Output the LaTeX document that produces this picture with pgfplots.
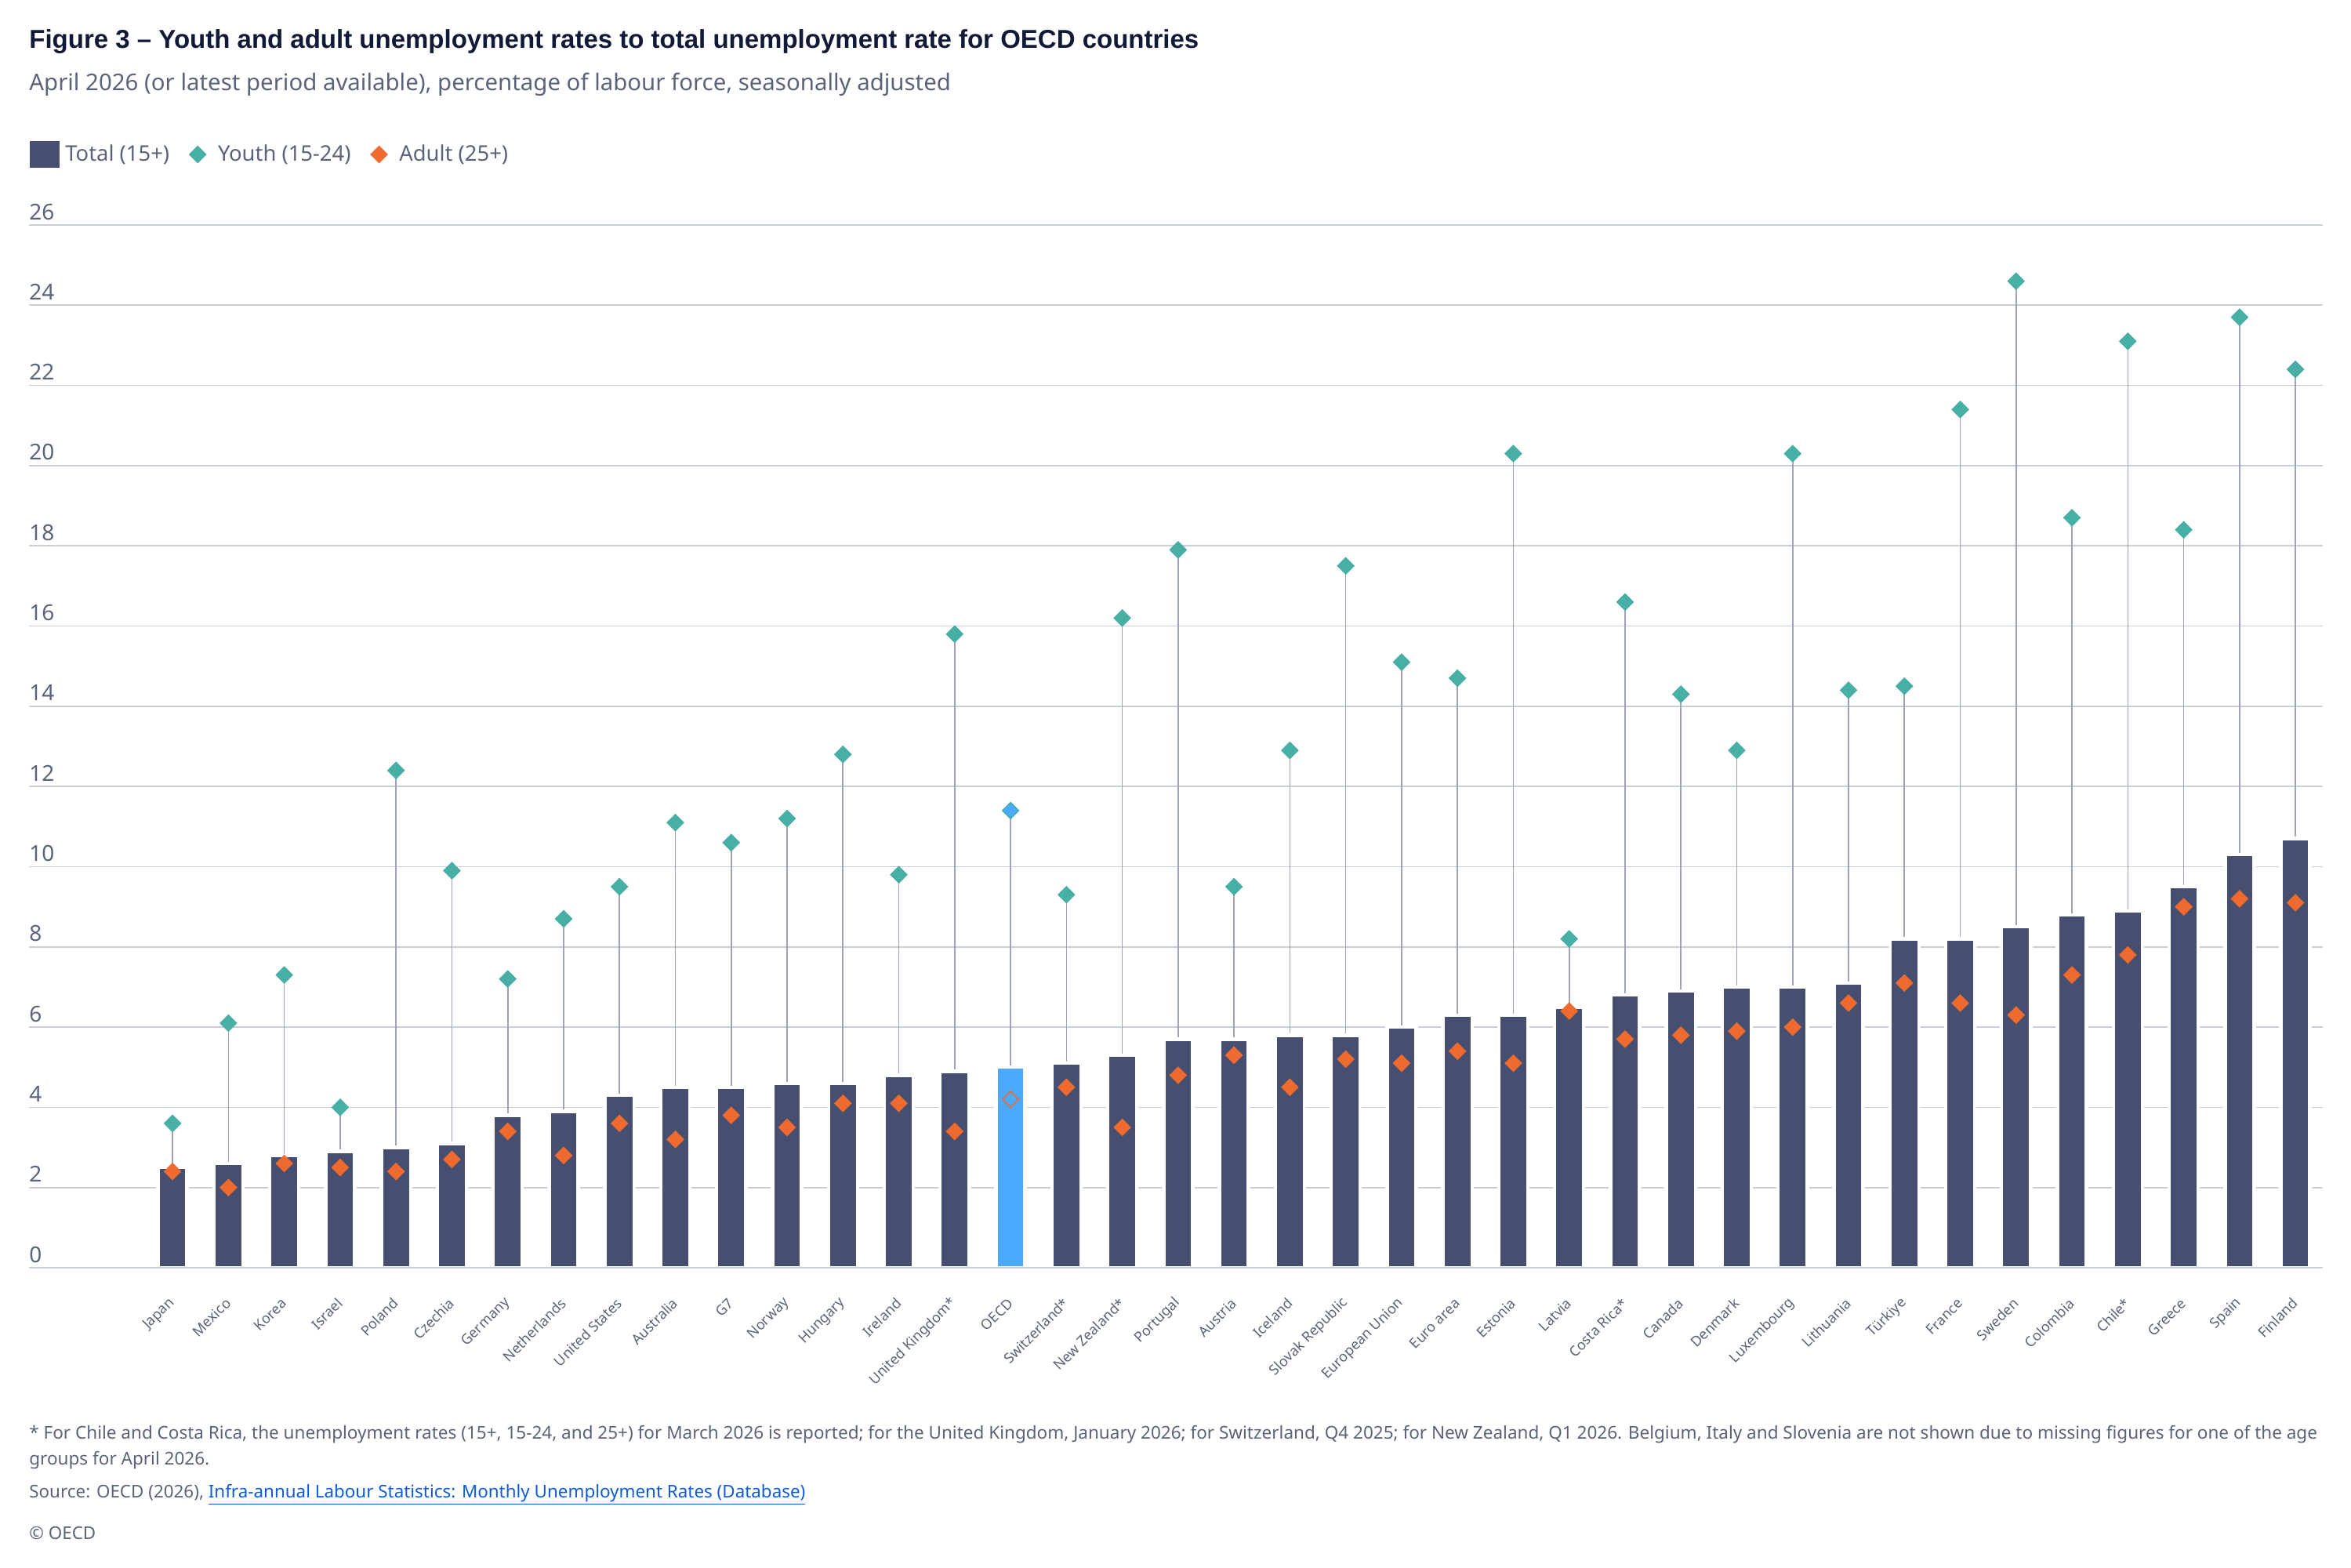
\documentclass[border=0pt]{standalone}
\usepackage{pgfplots}
\pgfplotsset{compat=1.18}
\usepackage{fontspec}
\setmainfont{Noto Sans}
\newfontfamily\titlefont{Liberation Sans}
\definecolor{barcol}{HTML}{464F6F}
\definecolor{teal}{HTML}{47AFA6}
\definecolor{orng}{HTML}{EE6A2E}
\definecolor{oecdblue}{HTML}{4BA9FF}
\definecolor{gridcol}{HTML}{C9CFDA}
\definecolor{conncol}{HTML}{9EA3B9}
\definecolor{ticktext}{HTML}{5B6379}
\definecolor{titlecol}{HTML}{101935}
\definecolor{linkcol}{HTML}{0D5BDD}
\begin{document}
\begin{tikzpicture}
\useasboundingbox (0,0) rectangle (1499.5pt,-1000pt);
\node[anchor=base west, inner sep=0pt, text=titlecol, font=\titlefont\bfseries\fontsize{16.5}{19}\selectfont] at (18.5pt,-30.85pt) {Figure 3 – Youth and adult unemployment rates to total unemployment rate for OECD countries};
\node[anchor=base west, inner sep=0pt, text=ticktext, font=\fontsize{14.7}{18}\selectfont] at (18.5pt,-58pt) {April 2026 (or latest period available), percentage of labour force, seasonally adjusted};
\begin{axis}[
 at={(18.5pt,-808.5pt)}, anchor=south west,
 scale only axis, width=1463pt, height=665pt,
 xmin=-2.57, xmax=38.49, ymin=0, ymax=26,
 ytick={0,2,...,26},
 xtick={0,...,38},
 xticklabels={Japan,Mexico,Korea,Israel,Poland,Czechia,Germany,Netherlands,United States,Australia,G7,Norway,Hungary,Ireland,United Kingdom*,OECD,Switzerland*,New Zealand*,Portugal,Austria,Iceland,Slovak Republic,European Union,Euro area,Estonia,Latvia,Costa Rica*,Canada,Denmark,Luxembourg,Lithuania,Türkiye,France,Sweden,Colombia,Chile*,Greece,Spain,Finland},
 ymajorgrids, grid style={gridcol, line width=0.85pt},
 axis line style={draw=none},
 major tick length=0pt, tick style={draw=none},
 /pgf/number format/assume math mode=true,
 yticklabel style={anchor=base west, inner sep=0pt, yshift=3.5pt, font=\fontsize{14}{16}\selectfont, text=ticktext},
 xticklabel style={rotate=45, anchor=east, inner sep=0pt, font=\fontsize{9}{10}\selectfont, text=ticktext},
 xticklabel shift=21pt,
 legend columns=-1,
 legend style={at={(axis description cs:0,1)}, anchor=west, yshift=45pt, xshift=0.5pt,
   draw=none, fill=none, inner sep=0pt, outer sep=0pt,
   nodes={text=ticktext, font=\fontsize{13.7}{16}\selectfont},
   /tikz/every odd column/.append style={column sep=1.5pt},
   /tikz/every even column/.append style={column sep=10pt}},
 clip=false,
]
% connectors (behind bars)
\addplot[ycomb, conncol, line width=0.8pt, forget plot] coordinates {
(0,3.6)(1,6.1)(2,7.3)(3,4.0)(4,12.4)(5,9.9)(6,7.2)(7,8.7)(8,9.5)(9,11.1)(10,10.6)(11,11.2)(12,12.8)(13,9.8)(14,15.8)(15,11.4)(16,9.3)(17,16.2)(18,17.9)(19,9.5)(20,12.9)(21,17.5)(22,15.1)(23,14.7)(24,20.3)(25,8.2)(26,16.6)(27,14.3)(28,12.9)(29,20.3)(30,14.4)(31,14.5)(32,21.4)(33,24.6)(34,18.7)(35,23.1)(36,18.4)(37,23.7)(38,22.4)};
% total bars
\addplot[ybar, bar width=18.55pt, bar shift=0pt, fill=barcol, draw=white, line width=2.2pt,
  legend image code/.code={\fill[barcol] (0pt,-7.25pt) rectangle (17pt,7.25pt);}] coordinates {
(0,2.5)(1,2.6)(2,2.8)(3,2.9)(4,3.0)(5,3.1)(6,3.8)(7,3.9)(8,4.3)(9,4.5)(10,4.5)(11,4.6)(12,4.6)(13,4.8)(14,4.9)(16,5.1)(17,5.3)(18,5.7)(19,5.7)(20,5.8)(21,5.8)(22,6.0)(23,6.3)(24,6.3)(25,6.5)(26,6.8)(27,6.9)(28,7.0)(29,7.0)(30,7.1)(31,8.2)(32,8.2)(33,8.5)(34,8.8)(35,8.9)(36,9.5)(37,10.3)(38,10.7)};
\addlegendentry{Total (15+)}
\addplot[ybar, bar width=18.55pt, bar shift=0pt, fill=oecdblue, draw=white, line width=2.2pt, forget plot] coordinates {(15,5.0)};
% baseline redrawn over bar outlines
\addplot[gridcol, line width=1.1pt, forget plot] coordinates {(-2.57,0)(38.49,0)};
% youth
\addplot[only marks, mark=square*, mark size=3.8pt, mark options={rotate=45, fill=teal, draw=teal},
  legend image code/.code={\path[draw=none, fill=none] (0pt,0pt) -- (15.4pt,0pt); \draw[only marks, mark=square*, mark size=3.8pt, mark options={rotate=45, fill=teal, draw=teal}] plot coordinates {(6pt,0pt)};}] coordinates {
(0,3.6)(1,6.1)(2,7.3)(3,4.0)(4,12.4)(5,9.9)(6,7.2)(7,8.7)(8,9.5)(9,11.1)(10,10.6)(11,11.2)(12,12.8)(13,9.8)(14,15.8)(16,9.3)(17,16.2)(18,17.9)(19,9.5)(20,12.9)(21,17.5)(22,15.1)(23,14.7)(24,20.3)(25,8.2)(26,16.6)(27,14.3)(28,12.9)(29,20.3)(30,14.4)(31,14.5)(32,21.4)(33,24.6)(34,18.7)(35,23.1)(36,18.4)(37,23.7)(38,22.4)};
\addlegendentry{Youth (15-24)}
% adult
\addplot[only marks, mark=square*, mark size=3.8pt, mark options={rotate=45, fill=orng, draw=orng},
  legend image code/.code={\path[draw=none, fill=none] (0pt,0pt) -- (15.4pt,0pt); \draw[only marks, mark=square*, mark size=3.8pt, mark options={rotate=45, fill=orng, draw=orng}] plot coordinates {(6pt,0pt)};}] coordinates {
(0,2.4)(1,2.0)(2,2.6)(3,2.5)(4,2.4)(5,2.7)(6,3.4)(7,2.8)(8,3.6)(9,3.2)(10,3.8)(11,3.5)(12,4.1)(13,4.1)(14,3.4)(16,4.5)(17,3.5)(18,4.8)(19,5.3)(20,4.5)(21,5.2)(22,5.1)(23,5.4)(24,5.1)(25,6.4)(26,5.7)(27,5.8)(28,5.9)(29,6.0)(30,6.6)(31,7.1)(32,6.6)(33,6.3)(34,7.3)(35,7.8)(36,9.0)(37,9.2)(38,9.1)};
\addlegendentry{Adult (25+)}
% OECD markers
\addplot[only marks, mark=square*, mark size=3.6pt, mark options={rotate=45, fill=oecdblue, draw=teal, line width=0.8pt}, forget plot] coordinates {(15,11.4)};
\addplot[only marks, mark=square*, mark size=3.6pt, mark options={rotate=45, fill=oecdblue, draw=orng, line width=0.8pt}, forget plot] coordinates {(15,4.2)};
\end{axis}
\node[anchor=base west, inner sep=0pt, text=ticktext, font=\fontsize{11.26}{16}\selectfont] at (18.5pt,-917.75pt) {* For Chile and Costa Rica, the unemployment rates (15+, 15-24, and 25+) for March 2026 is reported; for the United Kingdom, January 2026; for Switzerland, Q4 2025; for New Zealand, Q1 2026. Belgium, Italy and Slovenia are not shown due to missing figures for one of the age};
\node[anchor=base west, inner sep=0pt, text=ticktext, font=\fontsize{11.26}{16}\selectfont] at (18.5pt,-934pt) {groups for April 2026.};
\node[anchor=base west, inner sep=0pt, text=ticktext, font=\fontsize{11.2}{16}\selectfont] at (18.5pt,-955pt) {Source: OECD (2026), \textcolor{linkcol}{\underline{Infra-annual Labour Statistics: Monthly Unemployment Rates (Database)}}};
\node[anchor=base west, inner sep=0pt, text=ticktext, font=\fontsize{11.2}{16}\selectfont] at (18.5pt,-981.5pt) {© OECD};
\end{tikzpicture}
\end{document}
